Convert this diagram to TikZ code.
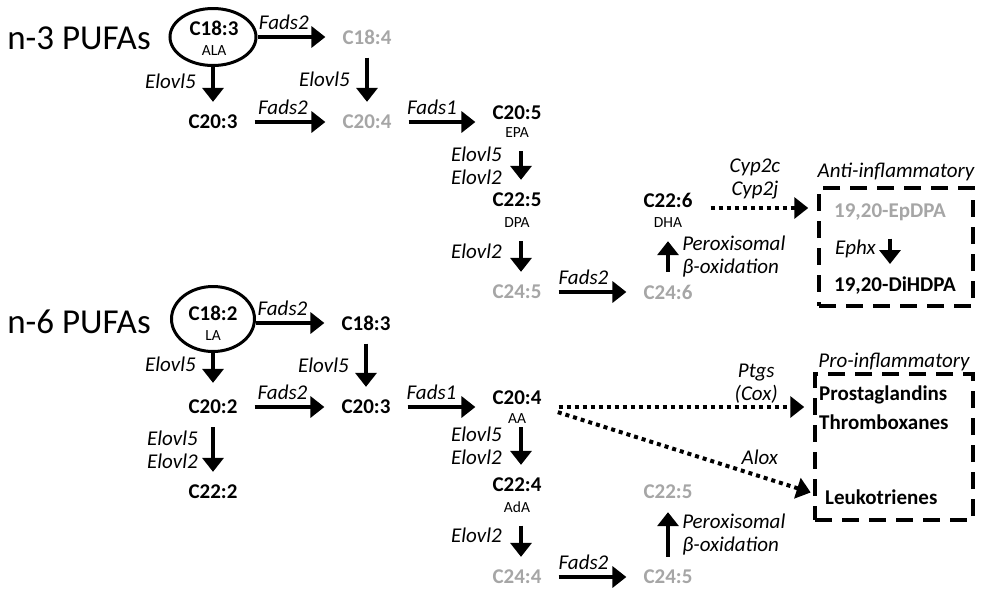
\documentclass[tikz,border=0pt]{standalone}
\usepackage{fontspec}
\setmainfont{Carlito}
\usepackage{tikz}
\usetikzlibrary{arrows.meta, positioning, shapes.geometric}
\definecolor{pufaGray}{RGB}{166,166,166}
\tikzset{
    fa/.style={font=\fontsize{21}{23}\selectfont\bfseries, inner sep=0pt},
    faGray/.style={fa, text=pufaGray},
    abbr/.style={font=\fontsize{15.5}{18}\selectfont, inner sep=0pt},
    enz/.style={font=\fontsize{21}{23}\selectfont\itshape, inner sep=0pt},
    family/.style={font=\fontsize{35}{40}\selectfont, inner sep=0pt},
    faEllipse/.style={ellipse, draw=black, line width=3pt, inner sep=0pt},
    fxBox/.style={draw=black, line width=3.5pt, dash pattern=on 17pt off 10pt, inner sep=0pt},
    hArr/.style={-{Triangle[length=14pt, width=21pt]}, line width=4.5pt, shorten <=17pt, shorten >=17pt},
    vArr/.style={-{Triangle[length=14pt, width=21pt]}, line width=4.5pt, shorten <=13pt, shorten >=13pt},
    dotArr/.style={-{Triangle[length=14pt, width=21pt]}, line width=4pt, dash pattern=on 4pt off 4pt}
}

\begin{document}
\begin{tikzpicture}[x=1pt, y=-1pt]
    \useasboundingbox (0,0) rectangle (985,590);

    % n-3 series
    \node[family] (n3) at (79,38) {n-3 PUFAs};
    \node[faEllipse, minimum width=86pt, minimum height=57pt] (o3ell) at (213,37) {};
    \node[fa] (o3c183) at (214,28) {C18:3};
    \node[abbr] (ala) at (214,51) {ALA};
    \node[faGray] (o3c184) at (367,37) {C18:4};
    \node[fa] (o3c203) at (213,122) {C20:3};
    \node[faGray] (o3c204) at (367,122) {C20:4};
    \node[fa] (o3c205) at (517,113) {C20:5};
    \node[abbr] (epa) at (517,133) {EPA};
    \node[fa] (o3c225) at (517,200) {C22:5};
    \node[abbr] (dpa) at (517,223) {DPA};
    \node[faGray] (o3c245) at (517,292) {C24:5};
    \node[faGray] (o3c246) at (668,292) {C24:6};
    \node[fa] (o3c226) at (668,200) {C22:6};
    \node[abbr] (dha) at (668,223) {DHA};
    \node[fxBox, minimum width=154pt, minimum height=118pt] (antiBox) at (896,247) {};
    \node[enz, above=5pt of antiBox] (antiLbl) {Anti-inflammatory};
    \node[faGray] (epdpa) at (890,212) {19,20-EpDPA};
    \node[fa] (dihdpa) at (895,286) {19,20-DiHDPA};

    \draw[hArr, shorten <=0pt] (o3ell.east) -- (o3c184.west) node[enz, above=5pt, pos=0.31] {Fads2};
    \draw[vArr, shorten <=0pt] (o3ell.south) -- (o3c203.north) node[enz, left=15pt, pos=0.3] {Elovl5};
    \draw[vArr] (o3c184) -- (o3c204) node[enz, left=15pt, midway] {Elovl5};
    \draw[hArr] (o3c203.east) -- (o3c204.west) node[enz, above=5pt, midway, xshift=-7pt] {Fads2};
    \draw[hArr] (o3c204.east) -- (o3c204.east -| o3c205.west) node[enz, above=5pt, midway, xshift=-10pt] {Fads1};
    \draw[vArr] ([xshift=4pt]epa.south) -- ([xshift=4pt]o3c225.north)
        node[enz, left=17pt, midway, align=right] {Elovl5\\Elovl2};
    \draw[vArr] ([xshift=4pt]dpa.south) -- ([xshift=4pt]o3c245.north) node[enz, left=17pt, pos=0.4] {Elovl2};
    \draw[hArr] (o3c245.east) -- (o3c246.west) node[enz, above=5pt, midway, xshift=-9pt] {Fads2};
    \draw[vArr] (o3c246) -- (dha) node[enz, right=12pt, midway, align=left] {Peroxisomal\\β-oxidation};
    \draw[dotArr, shorten <=18pt, shorten >=9pt] ([yshift=-8pt]o3c226.east) -- ([yshift=-8pt]o3c226.east -| antiBox.west)
        node[enz, above=7pt, midway, align=center] {Cyp2c\\Cyp2j};
    \draw[vArr, shorten <=18pt] (epdpa.south) -- (epdpa.south |- dihdpa.north) node[enz, left=12pt, midway] {Ephx};

    % n-6 series
    \node[family] (n6) at (79,322) {n-6 PUFAs};
    \node[faEllipse, minimum width=83pt, minimum height=65pt] (o6ell) at (213,319) {};
    \node[fa] (o6c182) at (213,313) {C18:2};
    \node[abbr] (la) at (213,336) {LA};
    \node[fa] (o6c183) at (366,323) {C18:3};
    \node[fa] (o6c202) at (213,407) {C20:2};
    \node[fa] (o6c203) at (366,407) {C20:3};
    \node[fa] (o6c222) at (213,492) {C22:2};
    \node[fa] (o6c204) at (517,398) {C20:4};
    \node[abbr] (aa) at (517,419) {AA};
    \node[fa] (o6c224) at (517,485) {C22:4};
    \node[abbr] (ada) at (517,507) {AdA};
    \node[faGray] (o6c244) at (517,577) {C24:4};
    \node[faGray] (o6c245) at (668,577) {C24:5};
    \node[faGray] (o6c225) at (668,492) {C22:5};
    \node[fxBox, minimum width=158pt, minimum height=146pt] (proBox) at (894,447) {};
    \node[enz, above=1pt of proBox] (proLbl) {Pro-inflammatory};
    \node[fa, anchor=west] (prosta) at (819,395) {Prostaglandins};
    \node[fa, anchor=west] (thromb) at (819,422) {Thromboxanes};
    \node[fa, anchor=west] (leuko) at (825,497) {Leukotrienes};

    \draw[hArr, shorten <=0pt] (o6ell.east |- o6c183.west) -- (o6c183.west) node[enz, above=5pt, pos=0.31] {Fads2};
    \draw[vArr, shorten <=0pt, shorten >=17pt] (o6ell.south) -- (o6c202.north) node[enz, left=15pt, pos=0.25] {Elovl5};
    \draw[vArr] (o6c183) -- (o6c203) node[enz, left=15pt, midway] {Elovl5};
    \draw[hArr] (o6c202.east) -- (o6c203.west) node[enz, above=5pt, midway, xshift=-7pt] {Fads2};
    \draw[hArr] (o6c203.east) -- (o6c203.east -| o6c204.west) node[enz, above=5pt, midway, xshift=-10pt] {Fads1};
    \draw[vArr] (o6c202) -- (o6c222) node[enz, left=13pt, midway, align=right] {Elovl5\\Elovl2};
    \draw[vArr, shorten <=3pt] ([xshift=4pt]aa.south) -- ([xshift=4pt]o6c224.north)
        node[enz, left=17pt, pos=0.4, align=right] {Elovl5\\Elovl2};
    \draw[vArr] ([xshift=4pt]ada.south) -- ([xshift=4pt]o6c244.north) node[enz, left=17pt, pos=0.4] {Elovl2};
    \draw[hArr] (o6c244.east) -- (o6c245.west) node[enz, above=5pt, midway, xshift=-9pt] {Fads2};
    \draw[vArr] (o6c245) -- (o6c225) node[enz, right=12pt, midway, align=left] {Peroxisomal\\β-oxidation};
    \draw[dotArr, shorten <=17pt, shorten >=9pt] ([yshift=-9pt]o6c204.east) -- ([yshift=-9pt]o6c204.east -| proBox.west)
        node[enz, above=2pt, pos=0.79, align=center] {Ptgs\\(Cox)};
    \draw[dotArr, shorten <=17pt, shorten >=15pt] ([yshift=-9pt]o6c204.east) -- (leuko.west)
        node[enz, above=10pt, pos=0.77] {Alox};
\end{tikzpicture}
\end{document}
